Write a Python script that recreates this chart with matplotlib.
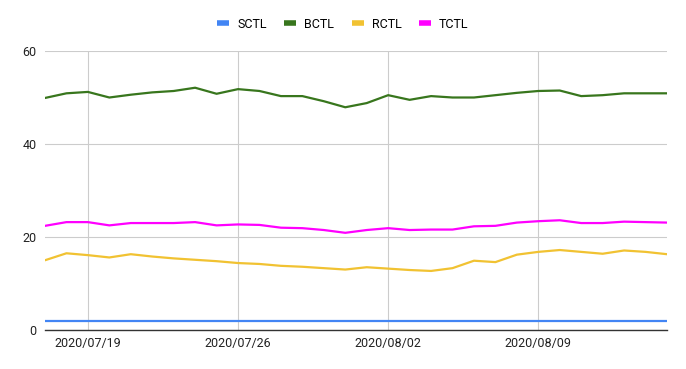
import matplotlib
matplotlib.use("Agg")
import matplotlib.pyplot as plt
import matplotlib.dates as mdates
import numpy as np
import datetime as dt

plt.rcParams['font.family'] = ['Roboto', 'DejaVu Sans']

start = dt.date(2020, 7, 17)
dates = [start + dt.timedelta(days=i) for i in range(30)]

sctl = [2.0] * 30
bctl = [49.9, 50.9, 51.2, 50.0, 50.6, 51.1, 51.4, 52.1, 50.8, 51.8,
        51.4, 50.3, 50.3, 49.2, 47.9, 48.8, 50.5, 49.5, 50.3, 50.0,
        50.0, 50.5, 51.0, 51.4, 51.5, 50.3, 50.5, 50.9, 50.9, 50.9]
rctl = [15.0, 16.5, 16.1, 15.6, 16.3, 15.8, 15.4, 15.1, 14.8, 14.4,
        14.2, 13.8, 13.6, 13.3, 13.0, 13.5, 13.2, 12.9, 12.7, 13.3,
        14.9, 14.6, 16.2, 16.8, 17.2, 16.8, 16.4, 17.1, 16.8, 16.3]
tctl = [22.4, 23.2, 23.2, 22.5, 23.0, 23.0, 23.0, 23.2, 22.5, 22.7,
        22.6, 22.0, 21.9, 21.5, 20.9, 21.5, 21.9, 21.5, 21.6, 21.6,
        22.3, 22.4, 23.1, 23.4, 23.6, 23.0, 23.0, 23.3, 23.2, 23.1]

series = [("SCTL", sctl, "#4285F4"), ("BCTL", bctl, "#38761D"),
          ("RCTL", rctl, "#F1C232"), ("TCTL", tctl, "#FF00FF")]

fig = plt.figure(figsize=(6.86, 3.69), dpi=100)
ax = fig.add_axes([45/686, 1-330/369, (667-45)/686, (330-51)/369])

for name, vals, col in series:
    ax.plot(dates, vals, color=col, lw=1.6, label=name, solid_capstyle='round')

ax.set_xlim(dates[0], dates[-1])
ax.set_ylim(0, 60)
ax.set_yticks([0, 20, 40, 60])
ax.set_xticks([dt.date(2020, 7, 19), dt.date(2020, 7, 26), dt.date(2020, 8, 2), dt.date(2020, 8, 9)])
ax.xaxis.set_major_formatter(mdates.DateFormatter('%Y/%m/%d'))
ax.grid(True, color='#cccccc', lw=0.8)
ax.set_axisbelow(True)
for s in ['top', 'right', 'left']:
    ax.spines[s].set_visible(False)
ax.spines['bottom'].set_color('#333333')
ax.spines['bottom'].set_linewidth(1.0)
ax.tick_params(axis='both', length=0, labelsize=9, colors='#222222')
ax.tick_params(axis='x', pad=5)
ax.tick_params(axis='y', pad=6)

leg = fig.legend(loc='center', bbox_to_anchor=(0.5, 1-24/369), ncol=4, frameon=False,
                 fontsize=9, handlelength=0.95, handletextpad=0.65, columnspacing=1.4)
for h in leg.legend_handles:
    h.set_linewidth(4)
    h.set_solid_capstyle('butt')

fig.savefig('out.png', dpi=100)
